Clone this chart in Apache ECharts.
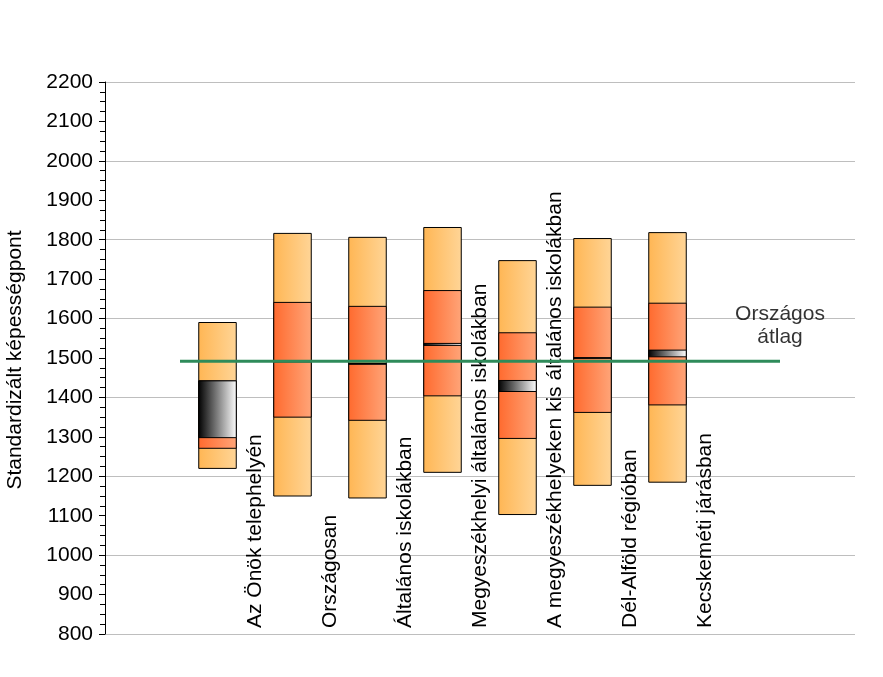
<!DOCTYPE html>
<html>
<head>
<meta charset="utf-8">
<script src="https://cdn.jsdelivr.net/npm/echarts@6/dist/echarts.min.js"></script>
<style>html,body{margin:0;padding:0;background:#fff}#c{width:883px;height:677px}</style>
</head>
<body>
<div id="c"></div>
<script>
const categories = ['Az Önök telephelyén', 'Országosan', 'Általános iskolákban', 'Megyeszékhelyi általános iskolákban', 'A megyeszékhelyeken kis általános iskolákban', 'Dél-Alföld régióban', 'Kecskeméti járásban'];
const lowVals    = [1220, 1150, 1145, 1210, 1103, 1177, 1185];
const q1Vals     = [1271, 1350, 1342, 1404, 1296, 1362, 1381];
const ciLowVals  = [1298, 1490, 1484, 1532, 1415, 1499, 1503];
const ciHighVals = [1442, 1493, 1486, 1537, 1443, 1501, 1520];
const q3Vals     = [1442, 1641, 1631, 1671, 1564, 1629, 1639];
const highVals   = [1590, 1816, 1806, 1831, 1747, 1803, 1818];
const nationalAvg = 1492;
const avgLabel = 'Országos\nátlag';
const yAxisTitle = 'Standardizált képességpont';
const yMin = 800, yMax = 2200;

const FONT = '"Liberation Sans", Arial, sans-serif';

// slot axis: 10 slots, boxes in slots 1..7
const slotAxis = Array.from({length: 10}, (_, i) => 'slot' + i);
// boundary axis: 11 boundaries, labels sit on boundaries 2..8
const boundaryAxis = Array.from({length: 11}, (_, i) => (i >= 2 && i < 2 + categories.length) ? categories[i - 2] : '');

const boxData = categories.map((c, i) => [i + 1, lowVals[i], q1Vals[i], ciLowVals[i], ciHighVals[i], q3Vals[i], highVals[i]]);

const gradOuter = {type: 'linear', x: 0, y: 0, x2: 1, y2: 0, colorStops: [{offset: 0, color: '#FFB654'}, {offset: 1, color: '#FFD597'}]};
const gradInner = {type: 'linear', x: 0, y: 0, x2: 1, y2: 0, colorStops: [{offset: 0, color: '#FF6A2E'}, {offset: 1, color: '#FFA579'}]};
const gradCI = {type: 'linear', x: 0, y: 0, x2: 1, y2: 0, colorStops: [{offset: 0, color: '#000000'}, {offset: 1, color: '#FFFFFF'}]};

function renderBox(params, api) {
  const x = api.value(0);
  const w = api.size([1, 0])[0] * 0.5;
  function rect(v0, v1, fill) {
    const p0 = api.coord([x, v0]);
    const p1 = api.coord([x, v1]);
    return {
      type: 'rect',
      shape: {x: p0[0] - w / 2, y: p1[1], width: w, height: p0[1] - p1[1]},
      style: {fill: fill, stroke: '#000', lineWidth: 1}
    };
  }
  return {
    type: 'group',
    children: [
      rect(api.value(1), api.value(6), gradOuter),
      rect(api.value(2), api.value(5), gradInner),
      rect(api.value(3), api.value(4), gradCI)
    ]
  };
}

const chart = echarts.init(document.getElementById('c'), null, {renderer: 'canvas'});
chart.setOption({
  animation: false,
  backgroundColor: '#fff',
  grid: {left: 105, right: 28, top: 82, bottom: 43, containLabel: false},
  xAxis: [
    {type: 'category', data: slotAxis, boundaryGap: true,
     axisLine: {show: false}, axisTick: {show: false}, axisLabel: {show: false}, splitLine: {show: false}},
    {type: 'category', data: boundaryAxis, boundaryGap: false, position: 'bottom',
     axisLine: {show: false}, axisTick: {show: false}, splitLine: {show: false},
     axisLabel: {show: true, inside: true, rotate: 90, interval: 0, margin: 6,
                 color: '#000', fontSize: 21, fontFamily: FONT}}
  ],
  yAxis: [
    {type: 'value', min: yMin, max: yMax, interval: 100,
     axisLine: {show: true, lineStyle: {color: '#000', width: 1}},
     axisTick: {show: true, length: 6, lineStyle: {color: '#000'}},
     minorTick: {show: true, splitNumber: 4, length: 5, lineStyle: {color: '#000'}},
     axisLabel: {color: '#000', fontSize: 21, fontFamily: FONT, margin: 12, formatter: v => String(v)},
     splitLine: {show: false}},
    {type: 'value', min: yMin, max: yMax, interval: 200, position: 'left',
     axisLine: {show: false}, axisTick: {show: false}, axisLabel: {show: false},
     splitLine: {show: true, lineStyle: {color: '#BEBEBE', width: 1}}}
  ],
  graphic: [
    {type: 'text', x: 15, y: 360, rotation: Math.PI / 2,
     style: {text: yAxisTitle, fill: '#000', fontSize: 21, fontFamily: FONT, align: 'center', verticalAlign: 'middle'}}
  ],
  series: [
    {type: 'custom', xAxisIndex: 0, yAxisIndex: 0, renderItem: renderBox, data: boxData, z: 2},
    {type: 'line', xAxisIndex: 1, yAxisIndex: 0, z: 5,
     data: [[1, nationalAvg], [9, nationalAvg]],
     symbol: 'none', lineStyle: {color: '#2E8B5A', width: 3},
     label: {show: false}},
    {type: 'scatter', xAxisIndex: 1, yAxisIndex: 0, z: 6,
     data: [[9, nationalAvg]], symbolSize: 0, silent: true,
     label: {show: true, position: 'top', distance: 12, formatter: avgLabel,
             color: '#000', fontSize: 21, lineHeight: 23, fontFamily: FONT, align: 'center'}}
  ]
});
</script>
</body>
</html>
